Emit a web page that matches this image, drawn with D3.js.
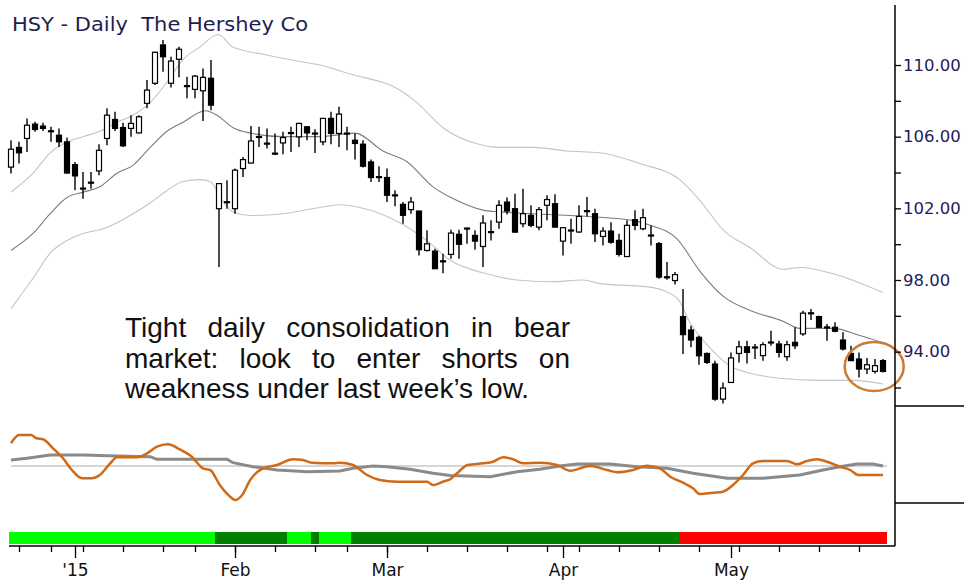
<!DOCTYPE html>
<html>
<head>
  <meta charset="utf-8">
  <style>
    body { margin: 0; background: #fff; }
    svg text { font-family: "DejaVu Sans", Verdana, sans-serif; }
    svg .note text { font-family: "Liberation Sans", Arial, sans-serif; font-size: 28px; fill: #111; }
  </style>
</head>
<body>
  <svg id="chart" width="964" height="582"></svg>

  <script src="https://d3js.org/d3.v7.min.js"></script>
  <script>
    // HSY daily, Dec 19 2014 - May 29 2015
    const firstDay = "2014-12-19", lastDay = "2015-05-29";
    const holidays = ["2014-12-25", "2015-01-01", "2015-01-19", "2015-02-16", "2015-04-03", "2015-05-25"];

    const open = [104.30,105.40,105.90,106.70,106.59,106.33,106.08,105.71,104.44,103.13,
      103.46,104.09,105.90,106.96,106.51,106.46,106.21,107.86,108.98,111.12,
      108.98,110.32,108.85,108.64,108.56,109.26,101.98,102.37,101.98,104.22,
      104.53,106.01,105.64,105.08,105.65,106.19,105.99,106.55,106.16,105.71,
      107.02,106.18,106.20,105.80,105.58,104.59,103.77,103.72,102.75,102.22,
      101.93,101.85,99.65,99.61,99.07,99.43,100.55,100.88,100.49,99.87,
      100.70,101.23,102.35,101.98,101.14,101.61,100.95,102.17,102.26,100.17,
      100.79,100.68,101.87,101.70,100.43,100.73,100.21,99.31,101.37,100.86,
      100.51,100.03,98.18,97.97,95.96,95.21,94.80,93.90,93.31,91.35,
      92.28,93.90,94.27,94.26,93.78,94.54,94.43,93.72,94.52,94.99,
      96.17,95.96,95.38,95.36,94.65,93.90,93.59,93.03,92.90,93.50];
    const high = [105.80,105.71,107.02,106.83,106.77,106.55,106.46,105.95,104.59,104.03,
      104.03,105.58,107.58,107.39,106.77,107.20,107.20,109.16,110.74,111.40,
      110.46,111.02,109.35,109.44,109.81,110.28,103.42,103.57,104.22,104.87,
      106.59,106.55,106.46,106.18,106.27,106.55,106.77,106.59,106.41,107.02,
      107.39,107.67,106.55,106.18,105.80,104.72,104.35,104.22,103.01,102.35,
      102.63,101.85,100.77,99.74,99.46,100.81,100.81,100.92,100.77,101.61,
      101.33,102.45,102.60,102.82,103.10,102.17,102.07,102.73,102.78,100.95,
      101.42,102.17,102.63,101.98,100.95,101.23,100.58,101.33,101.89,101.98,
      101.05,100.12,99.00,98.44,97.50,95.45,94.89,93.96,93.50,92.28,
      93.96,94.61,94.61,94.43,94.52,95.17,94.61,94.61,95.36,96.29,
      96.38,96.01,95.55,95.64,95.08,94.33,93.96,93.65,93.59,93.59];
    const low = [103.94,104.50,105.15,106.27,106.31,105.71,105.43,103.94,103.01,102.54,
      103.10,103.85,105.52,106.31,105.43,105.99,106.18,107.58,108.88,109.63,
      108.75,109.31,108.14,108.14,106.88,107.48,98.72,101.98,101.70,103.75,
      104.50,105.43,105.34,104.97,105.02,105.15,105.43,105.80,105.09,105.52,
      105.58,105.43,105.24,104.73,104.28,103.47,103.47,102.35,102.11,101.14,
      101.70,99.37,99.59,98.63,98.38,99.19,99.19,100.02,99.69,98.72,
      100.21,100.86,101.66,100.67,100.95,100.95,100.77,101.33,100.95,99.37,
      100.03,100.62,101.55,100.12,99.93,100.02,99.31,99.31,100.77,100.77,
      99.93,98.07,98.01,97.75,93.87,94.24,93.27,93.31,91.26,91.11,
      92.28,93.40,93.34,93.59,93.50,94.33,93.68,93.50,94.15,94.89,
      95.77,95.33,94.61,95.08,94.06,93.50,92.56,92.75,92.78,92.84];
    const close = [105.30,105.10,106.64,106.40,106.46,106.28,105.71,103.97,103.81,103.10,
      103.42,105.24,107.20,106.46,105.49,106.74,107.11,108.60,110.71,110.46,
      110.22,110.88,108.81,109.38,109.31,107.76,103.38,102.33,104.13,104.72,
      105.76,105.97,105.60,105.04,105.95,106.23,106.74,106.21,106.20,107.02,
      106.18,107.26,106.16,105.62,104.35,103.72,103.73,102.73,102.71,101.61,
      102.35,99.69,100.02,98.63,99.03,100.62,99.99,100.90,100.17,101.18,
      100.66,102.17,101.85,100.67,101.70,101.05,101.93,102.49,100.95,100.92,
      100.75,101.55,101.83,100.58,100.73,100.11,99.43,101.05,101.05,101.48,
      100.47,98.16,98.14,98.30,94.95,94.65,93.77,93.40,91.35,91.97,
      93.65,94.27,93.96,94.22,94.39,94.50,93.96,94.39,94.33,96.15,
      96.13,95.36,95.34,95.14,94.15,93.50,93.03,93.27,93.22,92.90];

    // channel lines: [day index, price]
    const upperBand = [[0,102.9],[2.75,103.96],[4.9,105.1],[7,105.7],[9,106.0],[11.1,106.3],[13.25,106.8],
      [15.25,107.2],[17.4,107.9],[19.5,109.05],[21.5,110.3],[23.6,111.0],[25.9,111.7],[27.75,111.0],
      [32,110.56],[36.1,110.2],[38.6,110.0],[42.4,109.5],[48.6,108.6],[50.75,107.9],[54,106.5],
      [58.25,105.6],[61.1,105.4],[65.25,105.4],[69.5,105.2],[73.6,105.1],[78.6,104.5],[83.6,103.6],
      [86.1,102.45],[89,100.8],[92.4,99.8],[96.5,98.6],[98.6,98.7],[102.75,98.35],[109,97.3]];
    const midBand = [[0,99.65],[2.75,100.6],[4.9,101.7],[7,102.6],[9,102.9],[11.1,103.2],[13.25,103.96],
      [15.25,104.4],[17.4,105.4],[19.5,106.3],[21.5,106.8],[24.3,107.45],[25.75,107.2],[27.75,106.5],
      [29.9,106.2],[34,106.0],[38.6,106.0],[43,106.2],[46.5,105.2],[49.5,104.6],[52.75,103.2],
      [55,102.6],[59,101.9],[61.1,101.8],[65.25,101.7],[73.6,101.5],[78,101.3],[79.9,101.05],
      [83.25,100.3],[86.1,98.5],[89,97.1],[92.4,96.3],[96.5,95.7],[98.6,95.3],[102.75,95.3],
      [106.1,94.9],[109,94.5]];
    const lowerBand = [[0,96.4],[2.75,98.1],[4.9,99.5],[7,100.2],[9,100.6],[11.1,100.8],[13.25,101.2],
      [15.25,101.7],[17.4,102.3],[19.5,103.0],[21.5,103.5],[23.6,103.6],[24.9,103.5],[26.5,102.4],
      [27.75,101.8],[29.9,101.6],[34,101.7],[38.6,102.05],[41.1,102.2],[43.6,102.05],[48.6,101.2],
      [52,100.2],[54.9,99.1],[59,98.4],[63.25,98.0],[67.4,97.9],[71.5,98.0],[73.6,97.8],[79.9,97.6],
      [83.25,97.0],[84.9,95.6],[87.4,94.2],[89.9,93.2],[92.4,92.8],[96.5,92.5],[100.75,92.4],
      [105.25,92.4],[109,92.2]];

    // lower panel oscillator (orange) and its slow line (grey): [day index, value]
    const oscLine = [[0,22.7],[1,31],[2.5,31],[3.2,27.7],[4,26.7],[5.25,17.7],[6.5,7.7],[7.6,-4],
      [8.9,-12.3],[10.1,-12.3],[11.1,-9],[12.4,2.7],[13.25,8.7],[15.75,8.7],[17,12.7],[18.25,19.3],
      [19.6,21.7],[21.1,16.7],[22.6,9.3],[24,-2.3],[24.9,-4],[26.1,-19],[27.4,-30.7],[28,-34],
      [28.9,-29],[29.9,-14],[31.5,-2.3],[33.25,1],[35.25,6.7],[36.5,6],[37.6,3.3],[40.25,2.7],
      [41.1,3.3],[42.75,1],[44.5,-9],[46.1,-14],[48.25,-15.7],[52,-15.7],[52.75,-19],[54,-15.7],
      [54.9,-13.3],[55.75,-7.3],[57.1,1],[59,2.7],[60.25,4.3],[61.5,8.7],[62.75,6.7],[64,2.7],
      [66.1,3.3],[68.25,1],[69.9,-4.7],[72.4,0],[74.5,-4],[75.75,-6.3],[77.75,-4],[79.5,0.3],
      [81.1,-2.3],[82.4,-10.7],[84,-16.7],[85.25,-22.3],[86.1,-28],[87.75,-26.7],[89,-25.7],
      [90.25,-19],[91.5,-9],[92.75,2.7],[94,5],[97,5],[98.25,1.7],[99.5,5],[100.75,6.7],[102,4.3],
      [103.6,-0.7],[104.9,-4],[105.9,-9],[109,-9]];
    const slowLine = [[0,6],[2,7.7],[4.9,11],[9,11],[13.25,10],[17.4,9.3],[18.25,6.7],[27,6.7],
      [27.75,3.3],[30.25,-0.7],[33.25,-4],[37,-5.7],[41.1,-5],[42.75,-2.3],[45.25,0],[47,-0.7],
      [49.9,-3.3],[52.75,-7.3],[54.9,-9.5],[59.9,-10.7],[63.25,-5.7],[66.1,-3.3],[68.6,0],
      [70.75,2],[74.9,2],[78.25,-0.7],[82,-2.3],[85.25,-7.3],[89.5,-12.3],[94,-12.3],[98.6,-9],
      [101.5,-4],[103.6,-0.7],[105.75,2],[107.75,2],[109,0]];

    // trend strip: runs of [number of days, state]
    const trendRuns = [[26,"up"],[9,"upWeak"],[3,"up"],[1,"upWeak"],[4,"up"],[41,"upWeak"],[26,"down"]];

    const priceTicks = d3.range(92, 111, 2);
    const priceLabels = [94, 98, 102, 106, 110];
    const title = "HSY - Daily  The Hershey Co";
    const note = ["Tight daily consolidation in bear",
                  "market: look to enter shorts on",
                  "weakness under last week\u2019s low."];

    // ---------------------------------------------------------------
    const parse = d3.utcParse("%Y-%m-%d"), fmt = d3.utcFormat("%Y-%m-%d");
    const days = d3.utcDays(parse(firstDay), d3.utcDay.offset(parse(lastDay), 1))
      .filter(d => d.getUTCDay() % 6 !== 0 && !holidays.includes(fmt(d)));

    const bars = days.map((d, i) => ({i, date: d, o: open[i], h: high[i], l: low[i], c: close[i]}));

    const svg = d3.select("#chart");
    const axisX = 895, baseY = 546;

    const x = d3.scaleLinear().domain([0, bars.length - 1]).range([11, 883]);
    const y = d3.scaleLinear().domain([92, 110]).range([387.5, 65]);
    const yi = d3.scaleLinear().domain([-40, 40]).range([506, 426]);
    const stripColor = d3.scaleOrdinal().domain(["up", "upWeak", "down"]).range(["#00ff00", "#008000", "#ff0000"]);

    svg.append("rect").attr("width", 964).attr("height", 582).attr("fill", "#fff");

    // title
    svg.append("text")
      .attr("x", 12).attr("y", 31)
      .attr("font-size", 19)
      .attr("fill", "#1e1e50")
      .style("white-space", "pre")
      .attr("textLength", 296).attr("lengthAdjust", "spacingAndGlyphs")
      .text(title);

    // channel
    const bandLine = d3.line().x(d => x(d[0])).y(d => y(d[1])).curve(d3.curveMonotoneX);
    [[upperBand, "#c4c4c4"], [lowerBand, "#c4c4c4"], [midBand, "#7c7c7c"]].forEach(([data, col]) => {
      svg.append("path").datum(data)
        .attr("d", bandLine)
        .attr("fill", "none").attr("stroke", col).attr("stroke-width", 1.1);
    });

    // candles
    const cg = svg.append("g");
    cg.selectAll("line.wick").data(bars).join("line")
      .attr("class", "wick")
      .attr("x1", d => x(d.i)).attr("x2", d => x(d.i))
      .attr("y1", d => y(d.h)).attr("y2", d => y(d.l))
      .attr("stroke", "#000").attr("stroke-width", 1.4);
    cg.selectAll("rect.body").data(bars).join("rect")
      .attr("class", "body")
      .attr("x", d => x(d.i) - 2.5).attr("width", 5)
      .attr("y", d => y(Math.max(d.o, d.c)))
      .attr("height", d => Math.max(1, Math.abs(y(d.o) - y(d.c))))
      .attr("fill", d => d.c >= d.o ? "#fff" : "#000")
      .attr("stroke", "#000").attr("stroke-width", 1.2);

    // note
    const ng = svg.append("g").attr("class", "note");
    const noteLeft = 125, noteRight = 570, noteY = [337, 368, 398];
    note.forEach((line, k) => {
      if (k === note.length - 1) {
        ng.append("text").attr("x", noteLeft).attr("y", noteY[k]).text(line);
        return;
      }
      const words = line.split(" ");
      const ws = words.map(w => {
        const t = ng.append("text").attr("y", noteY[k]).text(w);
        return {t, w: t.node().getComputedTextLength()};
      });
      const gap = (noteRight - noteLeft - d3.sum(ws, d => d.w)) / (ws.length - 1);
      let cx = noteLeft;
      ws.forEach(d => { d.t.attr("x", cx); cx += d.w + gap; });
    });

    // circled consolidation
    svg.append("ellipse")
      .attr("cx", x(107.9)).attr("cy", y(93.17))
      .attr("rx", 29.5).attr("ry", 24.5)
      .attr("fill", "none").attr("stroke", "#cd7a35").attr("stroke-width", 2.5);

    // lower panel
    svg.append("line")
      .attr("x1", x(0)).attr("x2", x(bars.length - 1) + 4)
      .attr("y1", yi(0)).attr("y2", yi(0))
      .attr("stroke", "#c8c8c8").attr("stroke-width", 1.5);
    const indLine = d3.line().x(d => x(d[0])).y(d => yi(d[1]));
    svg.append("path").datum(slowLine)
      .attr("d", indLine)
      .attr("fill", "none").attr("stroke", "#8a8a8a").attr("stroke-width", 3);
    svg.append("path").datum(oscLine)
      .attr("d", indLine.curve(d3.curveMonotoneX))
      .attr("fill", "none").attr("stroke", "#d06a16").attr("stroke-width", 2.5);

    // trend strip
    let start = 0;
    const strip = trendRuns.map(([n, s]) => { const r = {start, n, s}; start += n; return r; });
    svg.append("g").selectAll("rect").data(strip).join("rect")
      .attr("x", d => Math.max(9, x(d.start) - 4))
      .attr("width", d => x(d.start + d.n) - Math.max(9, x(d.start) - 4) - 4)
      .attr("y", 532).attr("height", 12)
      .attr("fill", d => stripColor(d.s));

    // frame lines
    svg.append("line").attr("x1", 9).attr("x2", axisX).attr("y1", baseY).attr("y2", baseY)
      .attr("stroke", "#000").attr("stroke-width", 1.5);
    svg.append("line").attr("x1", axisX).attr("x2", axisX).attr("y1", 5).attr("y2", baseY)
      .attr("stroke", "#000").attr("stroke-width", 1.5);
    [406, 503].forEach(v => svg.append("line")
      .attr("x1", axisX).attr("x2", 964).attr("y1", v).attr("y2", v)
      .attr("stroke", "#000").attr("stroke-width", 1.5));

    // price axis
    const ya = svg.append("g")
      .attr("transform", `translate(${axisX},0)`)
      .call(d3.axisRight(y).tickValues(priceTicks).tickSize(6).tickPadding(2)
        .tickFormat(d => priceLabels.includes(d) ? d.toFixed(2) : ""));
    ya.select(".domain").remove();
    ya.selectAll("line").attr("stroke", "#000").attr("stroke-width", 1.3);
    ya.selectAll("text").attr("font-size", 16.5).attr("fill", "#231c5c")
      .attr("font-family", "DejaVu Sans, sans-serif");

    // date axis: week ticks and month ticks
    const weekIdx = bars.filter(d => d.i > 0 && d.date.getUTCDay() < bars[d.i - 1].date.getUTCDay()).map(d => d.i);
    const monthIdx = bars.filter(d => d.i > 0 && d.date.getUTCMonth() !== bars[d.i - 1].date.getUTCMonth()).map(d => d.i);

    const wa = svg.append("g").attr("transform", `translate(0,${baseY})`)
      .call(d3.axisBottom(x).tickValues(weekIdx).tickSize(6).tickFormat(""));
    wa.select(".domain").remove();
    wa.selectAll("line").attr("stroke", "#000").attr("stroke-width", 1.3);

    const ma = svg.append("g").attr("transform", `translate(0,${baseY})`)
      .call(d3.axisBottom(x).tickValues(monthIdx).tickSize(12).tickPadding(6)
        .tickFormat(i => bars[i].date.getUTCMonth() === 0
          ? "'" + d3.utcFormat("%y")(bars[i].date)
          : d3.utcFormat("%b")(bars[i].date)));
    ma.select(".domain").remove();
    ma.selectAll("line").attr("stroke", "#000").attr("stroke-width", 1.3);
    ma.selectAll("text").attr("font-size", 17).attr("fill", "#111")
      .attr("font-family", "DejaVu Sans, sans-serif");
  </script>
</body>
</html>
